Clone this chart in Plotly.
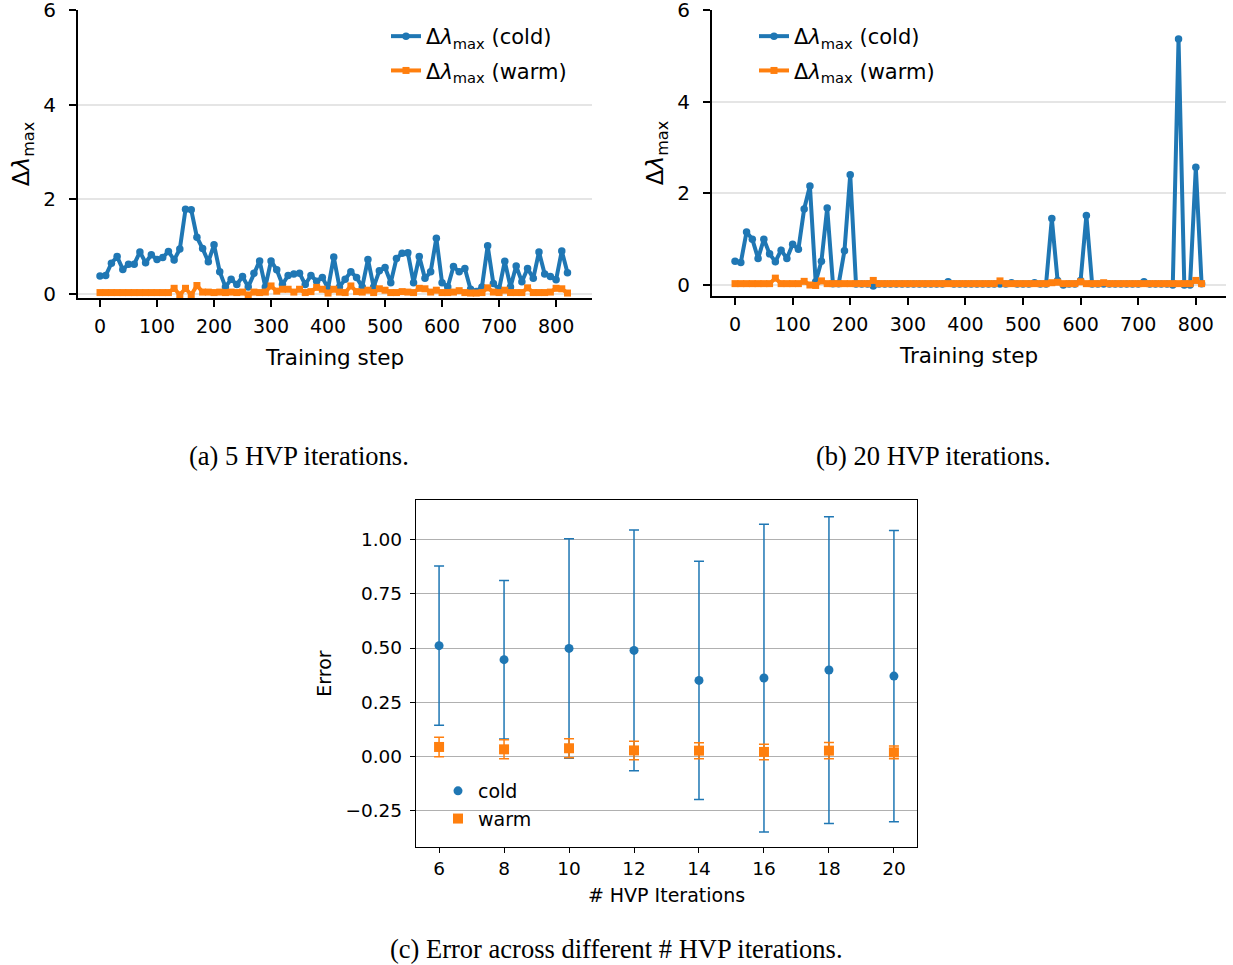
import plotly.graph_objects as go

# ---------------- data ----------------
steps_a = list(range(0, 830, 10))
cold_a = [0.38, 0.39, 0.65, 0.79, 0.52, 0.63, 0.63, 0.89, 0.66, 0.83,
          0.73, 0.77, 0.90, 0.72, 0.95, 1.79, 1.78, 1.20, 0.96, 0.68,
          1.04, 0.47, 0.15, 0.31, 0.20, 0.37, 0.15, 0.44, 0.70, 0.15,
          0.70, 0.51, 0.20, 0.39, 0.42, 0.44, 0.20, 0.39, 0.27, 0.35,
          0.12, 0.78, 0.15, 0.31, 0.47, 0.35, 0.15, 0.73, 0.15, 0.49,
          0.56, 0.24, 0.75, 0.86, 0.87, 0.24, 0.79, 0.33, 0.47, 1.18,
          0.24, 0.15, 0.58, 0.47, 0.54, 0.10, 0.05, 0.15, 1.02, 0.22,
          0.10, 0.69, 0.15, 0.59, 0.26, 0.54, 0.33, 0.89, 0.42, 0.37,
          0.30, 0.91, 0.45]
warm_a = [0.03, 0.03, 0.03, 0.03, 0.03, 0.03, 0.03, 0.03, 0.03, 0.03,
          0.03, 0.03, 0.03, 0.12, -0.02, 0.12, -0.02, 0.18, 0.04, 0.04,
          0.03, 0.04, 0.03, 0.04, 0.03, 0.04, -0.02, 0.04, 0.03, 0.04,
          0.17, 0.06, 0.10, 0.10, 0.04, 0.10, 0.03, 0.05, 0.14, 0.10,
          0.02, 0.10, 0.04, 0.03, 0.17, 0.05, 0.04, 0.08, 0.03, 0.11,
          0.08, 0.03, 0.03, 0.05, 0.04, 0.03, 0.12, 0.11, 0.04, 0.08,
          0.03, 0.03, 0.04, 0.07, 0.03, 0.02, 0.02, 0.03, 0.13, 0.04,
          0.03, 0.08, 0.03, 0.03, 0.03, 0.13, 0.03, 0.03, 0.03, 0.04,
          0.12, 0.11, 0.02]

steps_b = list(range(0, 820, 10))
cold_b = [0.52, 0.49, 1.16, 1.00, 0.58, 1.00, 0.68, 0.51, 0.76, 0.58,
          0.89, 0.78, 1.66, 2.16, 0.07, 0.52, 1.68, 0.03, 0.03, 0.75,
          2.41, 0.02, 0.02, 0.02, -0.02, 0.02, 0.02, 0.02, 0.02, 0.02,
          0.02, 0.02, 0.02, 0.02, 0.02, 0.02, 0.02, 0.07, 0.02, 0.02,
          0.02, 0.02, 0.02, 0.02, 0.02, 0.02, 0.02, 0.02, 0.05, 0.02,
          0.02, 0.02, 0.05, 0.02, 0.02, 1.45, 0.10, 0.00, 0.02, 0.02,
          0.10, 1.52, 0.02, 0.02, 0.02, 0.02, 0.02, 0.02, 0.02, 0.02,
          0.02, 0.07, 0.02, 0.02, 0.02, 0.02, 0.00, 5.37, 0.00, 0.00,
          2.57, 0.03]
warm_b = [0.03, 0.03, 0.03, 0.03, 0.03, 0.03, 0.03, 0.15, 0.03, 0.03,
          0.03, 0.03, 0.08, 0.00, -0.01, 0.09, 0.03, 0.03, 0.03, 0.03,
          0.03, 0.03, 0.03, 0.03, 0.10, 0.03, 0.03, 0.03, 0.03, 0.03,
          0.03, 0.03, 0.03, 0.03, 0.03, 0.03, 0.03, 0.03, 0.03, 0.03,
          0.03, 0.03, 0.03, 0.03, 0.03, 0.03, 0.09, 0.03, 0.03, 0.03,
          0.03, 0.03, 0.03, 0.03, 0.03, 0.05, 0.06, 0.03, 0.03, 0.03,
          0.07, 0.03, 0.03, 0.03, 0.05, 0.03, 0.03, 0.03, 0.03, 0.03,
          0.03, 0.03, 0.03, 0.03, 0.03, 0.03, 0.03, 0.03, 0.03, 0.03,
          0.10, 0.03]

hvp_iters = [6, 8, 10, 12, 14, 16, 18, 20]
cold_mean = [0.511, 0.446, 0.498, 0.489, 0.350, 0.361, 0.398, 0.370]
cold_err = [0.369, 0.367, 0.508, 0.557, 0.551, 0.712, 0.710, 0.674]
warm_mean = [0.042, 0.031, 0.036, 0.026, 0.025, 0.019, 0.025, 0.017]
warm_err = [0.045, 0.044, 0.044, 0.043, 0.037, 0.036, 0.038, 0.029]

ticks_ab = [0, 100, 200, 300, 400, 500, 600, 700, 800]
yticks_ab = [0, 2, 4, 6]
yticks_c = [-0.25, 0.0, 0.25, 0.5, 0.75, 1.0]
yticklabels_c = ["\u22120.25", "0.00", "0.25", "0.50", "0.75", "1.00"]

BLUE = "#1f77b4"
ORANGE = "#ff7f0e"
W, H = 1233, 965
FONT = "DejaVu Sans"
DLAM = "\u0394<i>\u03bb</i><sub>max</sub>"


def px(x):
    return x / W


def py(y):
    return 1 - y / H


fig = go.Figure()

# panel (a)
fig.add_trace(go.Scatter(x=steps_a, y=cold_a, mode="lines+markers", name=DLAM + " (cold)",
                         line=dict(color=BLUE, width=4), marker=dict(symbol="circle", size=7.5, color=BLUE),
                         xaxis="x", yaxis="y", legend="legend", legendgroup="ac"))
fig.add_trace(go.Scatter(x=steps_a, y=warm_a, mode="lines+markers", name=DLAM + " (warm)",
                         line=dict(color=ORANGE, width=4), marker=dict(symbol="square", size=7, color=ORANGE),
                         xaxis="x", yaxis="y", legend="legend", legendgroup="aw"))
# panel (b)
fig.add_trace(go.Scatter(x=steps_b, y=cold_b, mode="lines+markers", name=DLAM + " (cold)",
                         line=dict(color=BLUE, width=4), marker=dict(symbol="circle", size=7.5, color=BLUE),
                         xaxis="x2", yaxis="y2", legend="legend2", legendgroup="bc"))
fig.add_trace(go.Scatter(x=steps_b, y=warm_b, mode="lines+markers", name=DLAM + " (warm)",
                         line=dict(color=ORANGE, width=4), marker=dict(symbol="square", size=7, color=ORANGE),
                         xaxis="x2", yaxis="y2", legend="legend2", legendgroup="bw"))
# panel (c)
fig.add_trace(go.Scatter(x=hvp_iters, y=cold_mean, mode="markers", name="cold",
                         marker=dict(symbol="circle", size=9, color=BLUE),
                         error_y=dict(type="data", array=cold_err, visible=True, color=BLUE, thickness=1.5, width=5),
                         xaxis="x3", yaxis="y3", legend="legend3", legendgroup="cc"))
fig.add_trace(go.Scatter(x=hvp_iters, y=warm_mean, mode="markers", name="warm",
                         marker=dict(symbol="square", size=10, color=ORANGE),
                         error_y=dict(type="data", array=warm_err, visible=True, color=ORANGE, thickness=1.5, width=5),
                         xaxis="x3", yaxis="y3", legend="legend3", legendgroup="cw"))

ab_x = dict(tickvals=ticks_ab, ticks="outside", ticklen=7, tickwidth=2, tickcolor="black",
            showline=True, linecolor="black", linewidth=2, showgrid=False, zeroline=False,
            automargin=False, ticklabelstandoff=3, ticklabeloverflow="allow",
            tickfont=dict(family=FONT, size=19, color="black"),
            title=dict(text="Training step", font=dict(family=FONT, size=21.5, color="black"), standoff=14))
ab_y = dict(tickvals=yticks_ab, ticks="outside", ticklen=7, tickwidth=2, tickcolor="black",
            showline=True, linecolor="black", linewidth=2, showgrid=True, gridcolor="#e5e5e5", gridwidth=1.5,
            zeroline=False, automargin=False, ticklabelstandoff=9, ticklabeloverflow="allow",
            tickfont=dict(family=FONT, size=20, color="black"),
            title=dict(text=DLAM, font=dict(family=FONT, size=23, color="black"), standoff=7))

fig.update_layout(
    width=W, height=H, margin=dict(l=0, r=0, t=0, b=0, autoexpand=False),
    paper_bgcolor="white", plot_bgcolor="white",
    font=dict(family=FONT, color="black"),
    xaxis=dict(domain=[px(78), px(592)], range=[-38.6, 863], anchor="y", **ab_x),
    yaxis=dict(domain=[py(298), py(10)], range=[-0.085, 6.005], anchor="x", **ab_y),
    xaxis2=dict(domain=[px(712), px(1226)], range=[-40, 852.4], anchor="y2", **ab_x),
    yaxis2=dict(domain=[py(296), py(10)], range=[-0.24, 6.005], anchor="x2", **ab_y),
    xaxis3=dict(domain=[px(416), px(917)], range=[5.29, 20.71], anchor="y3",
                tickvals=hvp_iters, ticks="outside", ticklen=5, tickwidth=1.3, tickcolor="black",
                showline=True, linecolor="black", linewidth=1.3, mirror=True, showgrid=False, zeroline=False,
                automargin=False, ticklabelstandoff=0,
                tickfont=dict(family=FONT, size=18.5, color="black"),
                title=dict(text="# HVP Iterations", font=dict(family=FONT, size=19, color="black"), standoff=10)),
    yaxis3=dict(domain=[py(847), py(500)], range=[-0.421, 1.185], anchor="x3",
                tickvals=yticks_c, ticktext=yticklabels_c, ticks="outside", ticklen=5, tickwidth=1.3,
                tickcolor="black", showline=True, linecolor="black", linewidth=1.3, mirror=True,
                showgrid=True, gridcolor="#b0b0b0", gridwidth=1.2, zeroline=False,
                automargin=False, ticklabelstandoff=4,
                tickfont=dict(family=FONT, size=18.5, color="black"),
                title=dict(text="Error", font=dict(family=FONT, size=19, color="black"), standoff=8)),
    legend=dict(x=px(386), y=py(16), xanchor="left", yanchor="top", bgcolor="rgba(0,0,0,0)",
                font=dict(family=FONT, size=21, color="black"), tracegroupgap=4),
    legend2=dict(x=px(754), y=py(16), xanchor="left", yanchor="top", bgcolor="rgba(0,0,0,0)",
                 font=dict(family=FONT, size=21, color="black"), tracegroupgap=4),
    legend3=dict(x=px(438), y=py(772), xanchor="left", yanchor="top", bgcolor="rgba(0,0,0,0)",
                 font=dict(family=FONT, size=19, color="black"), tracegroupgap=0),
    showlegend=True,
)

# horizontal reference lines at 0 in (a) and (b)
for xr, yr in (("x", "y"), ("x2", "y2")):
    fig.add_shape(type="line", xref=f"{xr} domain", yref=yr, x0=0, x1=1, y0=0, y1=0,
                  line=dict(color=BLUE, width=1.5), layer="below")

captions = [("(a) 5 HVP iterations.", 299, 456),
            ("(b) 20 HVP iterations.", 933, 456),
            ("(c) Error across different # HVP iterations.", 616, 949)]
for txt, cx, cy in captions:
    fig.add_annotation(text=txt, x=px(cx), y=py(cy), xref="paper", yref="paper", showarrow=False,
                       xanchor="center", yanchor="middle",
                       font=dict(family="Liberation Serif", size=26.5, color="black"))

fig.write_html("out.html")
